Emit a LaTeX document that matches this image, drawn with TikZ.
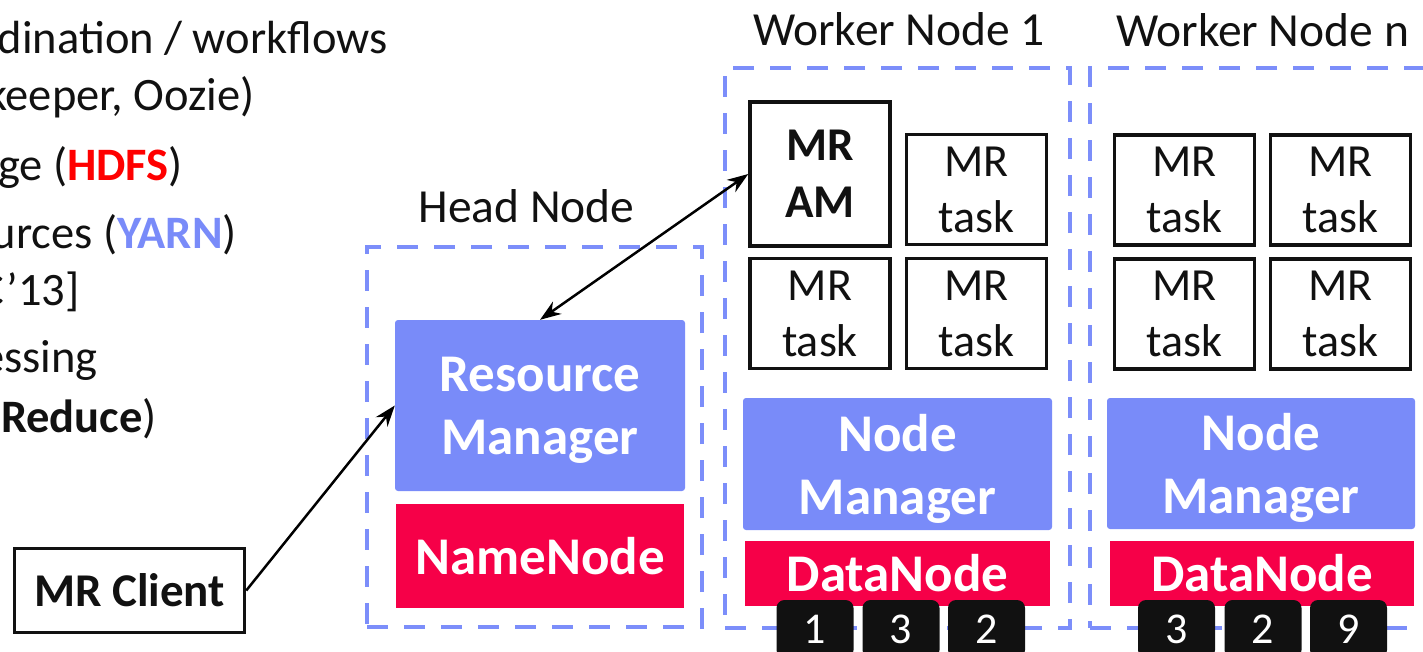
\documentclass[tikz,border=0pt]{standalone}
\usepackage{fontspec}
\setmainfont{Carlito}
\usetikzlibrary{arrows.meta}
\definecolor{yarnblue}{RGB}{121,139,249}
\definecolor{dashblue}{RGB}{124,142,250}
\definecolor{nnred}{RGB}{246,0,72}
\definecolor{hdfsred}{RGB}{255,0,0}
\definecolor{blk}{RGB}{17,17,17}
\begin{document}
\begin{tikzpicture}[x=1pt,y=-1pt,
  container/.style={draw=dashblue, line width=4.5pt, dash pattern=on 21pt off 16pt, inner sep=0pt},
  title/.style={font=\fontsize{47.5}{56}\selectfont, inner sep=0pt, anchor=base, text=blk},
  task/.style={draw=blk, line width=3.5pt, fill=white, inner sep=0pt, minimum width=140pt, minimum height=110pt, align=center, text=blk, font=\fontsize{46}{56}\selectfont},
  mgr/.style={fill=yarnblue, rounded corners=3pt, inner sep=0pt, text=white, align=center, text depth=0pt, font=\fontsize{53}{63}\selectfont\bfseries},
  store/.style={fill=nnred, inner sep=0pt, text=white, align=center, font=\fontsize{53}{63}\selectfont\bfseries},
  blockbox/.style={fill=blk, rounded corners=8pt, inner sep=0pt, minimum width=77pt, minimum height=58pt, text=white, font=\fontsize{44}{52}\selectfont},
  side/.style={font=\fontsize{46.5}{54}\selectfont, inner sep=0pt, anchor=base east, text=blk},
  link/.style={line width=2.5pt, draw=black, -{Stealth[length=21pt,width=15pt]}},
  dlink/.style={line width=2.5pt, draw=black, {Stealth[length=21pt,width=15pt]}-{Stealth[length=21pt,width=15pt]}}
]
\useasboundingbox (0,0) rectangle (1423,651);
\clip (0,0) rectangle (1423,651);

% left-hand text
\node[side] (l1) at (388,53) {dination / workflows};
\node[side] (l2) at (255,110) {keeper, Oozie)};
\node[side] (l3) at (183,180) {ge ({\color{hdfsred}\bfseries HDFS})};
\node[side] (l4) at (237,248) {urces ({\color{yarnblue}\bfseries YARN})};
\node[side] (l5) at (80,305) {C’13]};
\node[side] (l6) at (98,372) {essing};
\node[side] (l7) at (157,432) {{\bfseries Reduce})};

% containers
\node[container, minimum width=335pt, minimum height=380pt] (head) at (534.5,437) {};
\node[container, minimum width=345pt, minimum height=560pt] (w1) at (897.5,348) {};
\node[container, minimum width=350pt, minimum height=560pt] (wn) at (1265,348) {};

\node[title] (headlbl) at (526.5,222) {Head Node};
\node[title] (w1lbl) at (899,45) {Worker Node 1};
\node[title] (wnlbl) at (1262.5,46) {Worker Node n};

% head node
\node[mgr, minimum width=290pt, minimum height=171pt] (rm) at (540,405.5) {Resource\\Manager};
\node[store, minimum width=288pt, minimum height=104pt] (nn) at (540,556) {NameNode};

% worker 1
\node[task, minimum height=144pt, text depth=0pt, font=\fontsize{47}{57}\selectfont\bfseries] (am) at (820,174) {MR\\AM};
\node[task] (t12) at (976.5,189.5) {MR\\task};
\node[task] (t13) at (820,313.5) {MR\\task};
\node[task] (t14) at (976.5,313.5) {MR\\task};
\node[mgr, minimum width=309pt, minimum height=132pt] (nm1) at (897.5,464) {Node\\Manager};
\node[store, minimum width=305pt, minimum height=65pt] (dn1) at (897.5,573.5) {DataNode};
\node[blockbox] (b11) at (815,629) {1};
\node[blockbox] (b12) at (901,629) {3};
\node[blockbox] (b13) at (986.5,629) {2};

% worker n
\node[task] (tn1) at (1184.5,190) {MR\\task};
\node[task] (tn2) at (1340.5,190) {MR\\task};
\node[task] (tn3) at (1184.5,314) {MR\\task};
\node[task] (tn4) at (1340.5,314) {MR\\task};
\node[mgr, minimum width=308pt, minimum height=131pt] (nmn) at (1261,463.5) {Node\\Manager};
\node[store, minimum width=304pt, minimum height=65pt] (dnn) at (1262,573.5) {DataNode};
\node[blockbox] (bn1) at (1176.5,629) {3};
\node[blockbox] (bn2) at (1263,629) {2};
\node[blockbox] (bn3) at (1348.5,629) {9};

% client
\node[draw=blk, line width=3.5pt, inner sep=0pt, minimum width=230pt, minimum height=84pt, text=blk, font=\fontsize{47}{56}\selectfont\bfseries] (client) at (129.5,590.5) {MR Client};

% connectors
\draw[link] (client.east) -- (rm.west);
\draw[dlink] (rm.north) -- (am.west);
\end{tikzpicture}
\end{document}
